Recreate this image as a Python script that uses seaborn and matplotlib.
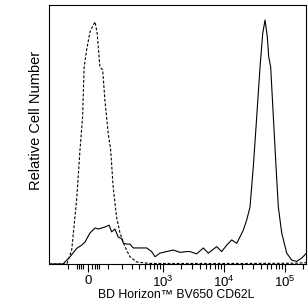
import seaborn as sns
import pandas as pd
import matplotlib.pyplot as plt
import numpy as np
from matplotlib.ticker import FixedLocator, FixedFormatter

# fluorescence values (biexponential axis) and relative cell counts
isotype_x = [-243, -104, -77, -52, -36, -24, -17, -6, 9, 24, 32, 42, 55, 69, 81,
             99, 114, 130, 154, 180, 224, 275, 361, 600, 2000, 20000, 150000, 221000]
isotype_y = [0, 0, 5.4, 24.7, 44, 56.8, 76, 82.6, 89.6, 92.3, 93.5, 89, 76, 75, 63,
             50.6, 44, 29.7, 18, 12, 6.7, 2.8, 0.8, 0.2, 0.2, 0.2, 0.3, 0.5]

cd62l_x = [-243, -129, -87, -52, -28, -13, 9, 32, 47, 64, 81, 105, 120, 142, 166, 194,
           208, 240, 275, 315, 412, 535, 648, 736, 890, 1148, 1475, 1900, 2443, 2775,
           3573, 4584, 5535, 7600, 9180, 11090, 13400, 16180, 18320, 20750, 23590,
           26720, 30270, 34420, 38990, 43150, 47100, 51300, 54100, 58300, 64400,
           71300, 77800, 88300, 106700, 128800, 155600, 188000, 221000]
cd62l_y = [0, 0, 2.7, 6, 7.3, 8.5, 12, 13.9, 13.5, 13.9, 14.3, 15, 12.4, 13.5, 10.4, 9.8,
           8.1, 7.7, 7.7, 6.2, 6.2, 6.2, 4.8, 2.8, 4.2, 4.8, 5.4, 4.5, 4.8, 4.8,
           3.9, 6.2, 4.2, 6.7, 4.8, 7.3, 9.3, 8, 10.5, 13.1, 17,
           22, 37.6, 56.9, 76, 89, 94.2, 87.8, 80, 76, 57,
           37.6, 22, 12, 4.2, 1.5, 1, 2.3, 4]

major_ticks = [0, 1e3, 1e4, 1e5]
major_labels = ['0', '$10^3$', '$10^4$', '$10^5$']
minor_ticks = [-100, -50, -40, -30, -20, 20, 30, 40, 50, 100]
for d in [100, 1000, 10000]:
    minor_ticks += [k * d for k in range(2, 10)]
minor_ticks += [200000]

W = 118.0


def fwd(x):
    return np.arcsinh(np.asarray(x, dtype=float) / W) / np.log(10)


def inv(y):
    return W * np.sinh(np.asarray(y, dtype=float) * np.log(10))


sns.set_theme(style='ticks')
plt.rcParams['font.family'] = ['Liberation Sans', 'DejaVu Sans']
plt.rcParams['mathtext.fontset'] = 'custom'
plt.rcParams['mathtext.rm'] = 'Liberation Sans'
plt.rcParams['mathtext.it'] = 'Liberation Sans'

fig = plt.figure(figsize=(3.08, 3.06), dpi=100)
ax = fig.add_axes([49 / 308, 42 / 306, 257 / 308, 259 / 306])
ax.set_xscale('function', functions=(fwd, inv))

iso = pd.DataFrame({'x': isotype_x, 'y': isotype_y})
cd = pd.DataFrame({'x': cd62l_x, 'y': cd62l_y})
sns.lineplot(data=iso, x='x', y='y', ax=ax, color='black', linewidth=0.8,
             linestyle=(0, (2.5, 1.6)), estimator=None)
sns.lineplot(data=cd, x='x', y='y', ax=ax, color='black', linewidth=0.8,
             estimator=None)

ax.set_xlim(-243, 221000)
ax.set_ylim(0, 100)

ax.xaxis.set_major_locator(FixedLocator(major_ticks))
ax.xaxis.set_major_formatter(FixedFormatter(major_labels))
ax.xaxis.set_minor_locator(FixedLocator(minor_ticks))
ax.tick_params(axis='x', which='major', length=6, width=0.8, pad=2, labelsize=9.5,
               color='black', labelcolor='black')
ax.tick_params(axis='x', which='minor', length=3.5, width=0.8, color='black')
ax.set_yticks([])

for s in ax.spines.values():
    s.set_color('black')
    s.set_linewidth(0.8)

ax.set_xlabel('BD Horizon™ BV650 CD62L', fontsize=8.8, color='black')
ax.xaxis.set_label_coords(0.496, -0.098)
ax.set_ylabel('Relative Cell Number', fontsize=10.5, color='black')
ax.yaxis.set_label_coords(-0.023, 0.556)

fig.savefig('out.png', dpi=100)
